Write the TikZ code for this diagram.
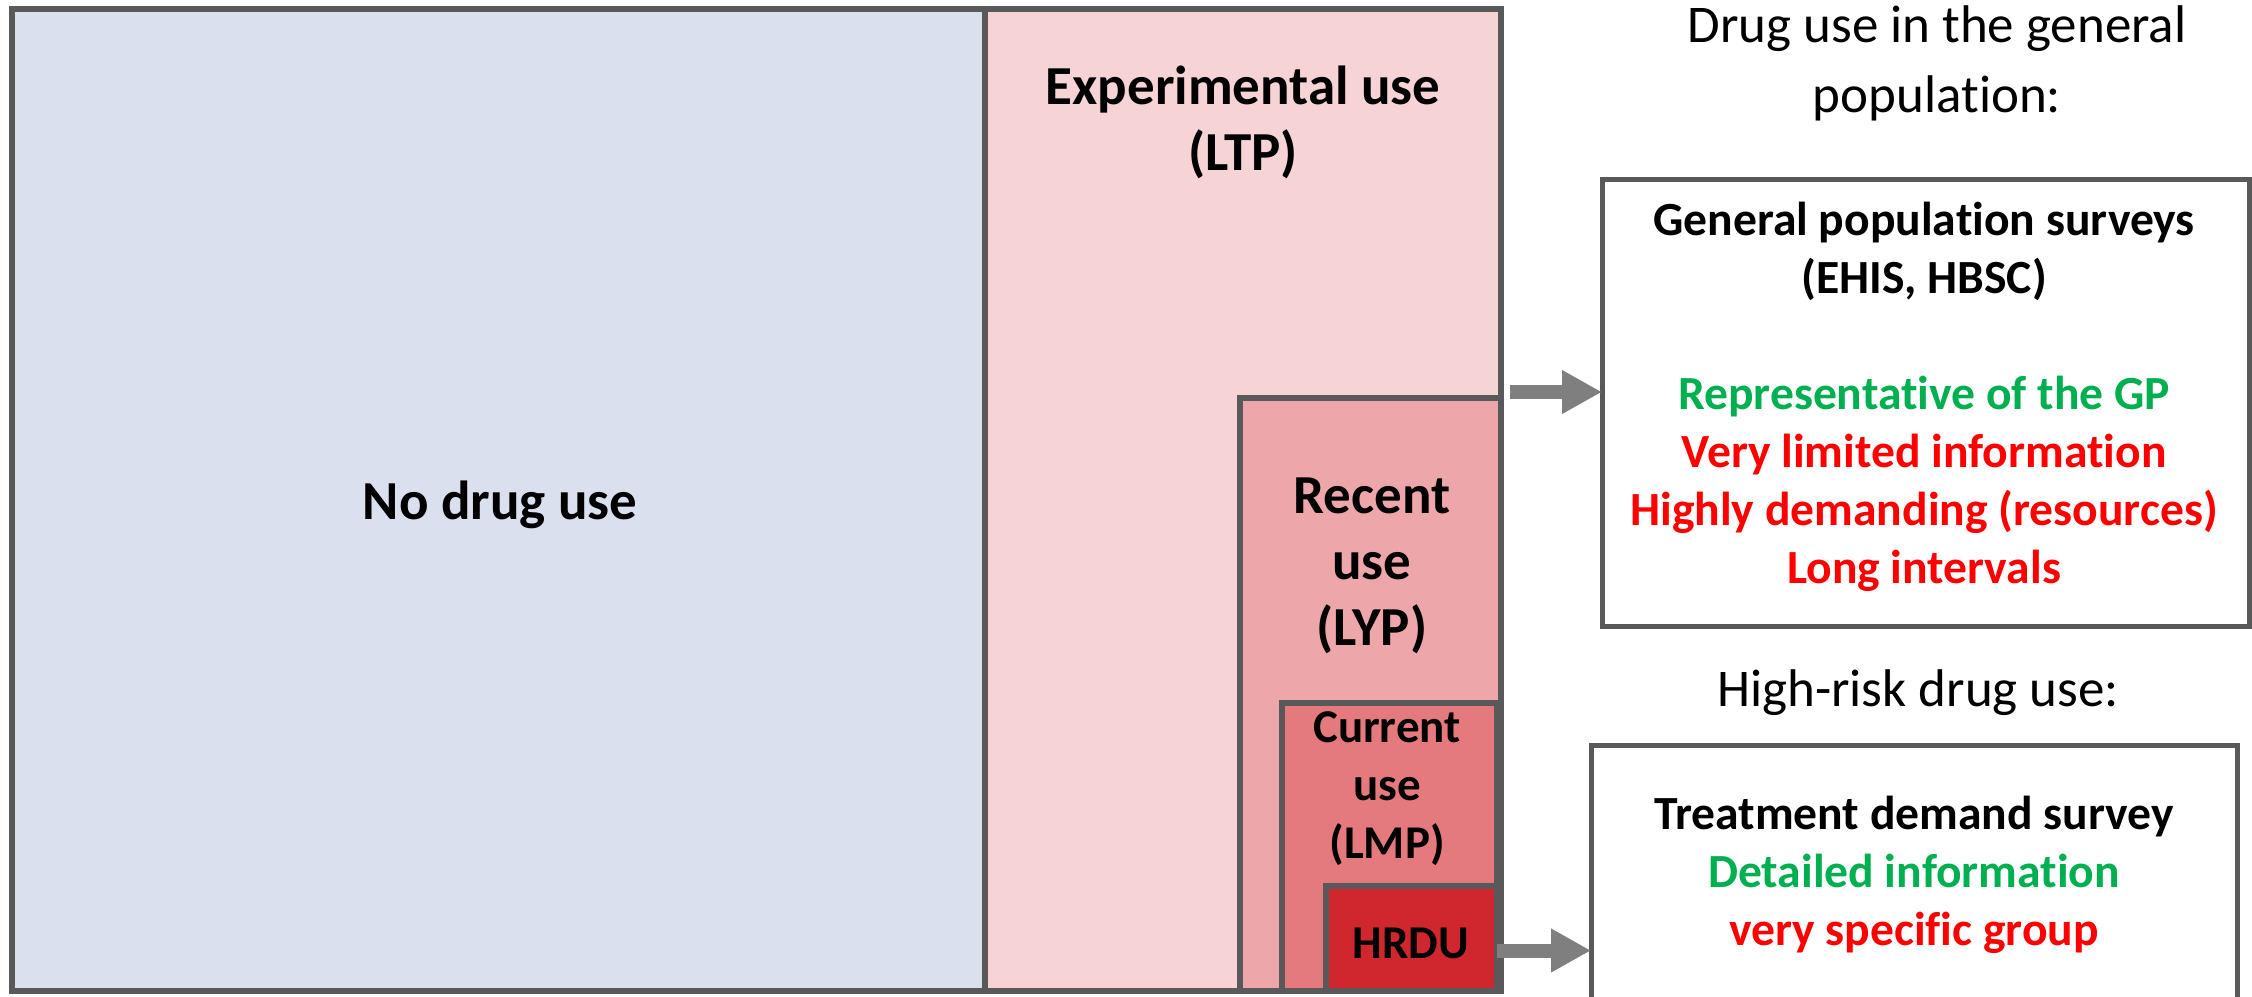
\documentclass[tikz,border=0pt]{standalone}
\usepackage{fontspec}
\setmainfont{Carlito}[Ligatures=NoCommon]
\usetikzlibrary{arrows.meta,fit}
\definecolor{nodrug}{RGB}{218,224,238}
\definecolor{expc}{RGB}{246,211,212}
\definecolor{recc}{RGB}{237,166,169}
\definecolor{curc}{RGB}{229,122,126}
\definecolor{hrduc}{RGB}{208,38,45}
\definecolor{edgec}{RGB}{89,89,89}
\definecolor{arrowc}{RGB}{127,127,127}
\definecolor{goodc}{RGB}{0,176,80}
\definecolor{badc}{RGB}{255,0,0}
\begin{document}
\begin{tikzpicture}[x=0.5pt,y=-0.5pt,
  region/.style={draw=edgec, line width=3pt, inner sep=0pt, outer sep=0pt},
  infobox/.style={draw=edgec, line width=2.5pt, fill=white, inner sep=0pt, outer sep=0pt},
  biglab/.style={font=\bfseries\fontsize{27.5}{33}\selectfont, align=center, inner sep=0pt},
  midlab/.style={font=\bfseries\fontsize{23.5}{29}\selectfont, align=center, inner sep=0pt},
  infotext/.style={font=\bfseries\fontsize{23.8}{29}\selectfont, align=center, inner sep=0pt},
  headtext/.style={font=\fontsize{26.5}{35}\selectfont, align=center, inner sep=0pt},
  bigarrow/.style={draw=arrowc, line width=7pt, -{Triangle[length=20pt,width=20.5pt]}}
]
\clip (0,0) rectangle (2252,996);
\fill[white] (0,0) rectangle (2252,996);

% population regions
\node[region, fill=nodrug, fit={(12,9) (985,991)}] (nodrug) {};
\node[region, fill=expc, fit={(985,9) (1501,991)}] (exp) {};
\node[region, fill=recc, fit={(1240,398) (1501,991)}] (recent) {};
\node[region, fill=curc, fit={(1282,703) (1497,991)}] (current) {};
\node[region, fill=hrduc, fit={(1326,886) (1497,991)}] (hrdu) {};

\node[biglab] (nodruglab) at (500,505) {No drug use};
\node[biglab] (explab) at (1243,122) {Experimental use\\(LTP)};
\node[biglab] (reclab) at (1372,566) {Recent\\use\\(LYP)};
\node[midlab] (curlab) at (1387,789) {Current\\use\\(LMP)};
\node[midlab] (hrdulab) at (1411,943) {HRDU};

% right side
\node[headtext] (head1) at (1937,63) {Drug use in the general\\population:};
\node[headtext] (head2) at (1918,693) {High-risk drug use:};

\node[infobox, fit={(1602,179) (2249,626)}] (gp) {};
\node[infotext] (gptext) at (1924,397) {General population surveys\\(EHIS, HBSC)\\[29pt]
  \textcolor{goodc}{Representative of the GP}\\
  \textcolor{badc}{Very limited information}\\
  \textcolor{badc}{Highly demanding (resources)}\\
  \textcolor{badc}{Long intervals}};

\node[infobox, fit={(1591,745) (2237,1020)}] (tds) {};
\node[infotext] (tdstext) at (1914,875) {Treatment demand survey\\
  \textcolor{goodc}{Detailed information}\\
  \textcolor{badc}{very specific group}};

% arrows
\coordinate (a1) at ([xshift=4.5pt,yshift=3pt]recent.north east);
\draw[bigarrow] (a1) -- (a1 -| gp.west);
\coordinate (a2) at ([yshift=-6pt]hrdu.east);
\draw[bigarrow] (a2) -- (a2 -| tds.west);
\end{tikzpicture}
\end{document}
